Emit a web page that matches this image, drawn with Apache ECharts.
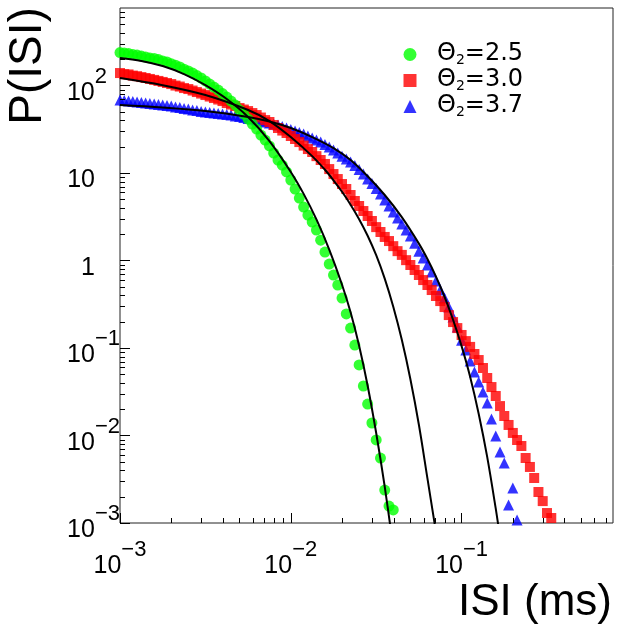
<!DOCTYPE html>
<html><head><meta charset="utf-8">
<script src="https://cdn.jsdelivr.net/npm/echarts@6/dist/echarts.min.js"></script>
<style>html,body{margin:0;padding:0;background:#fff}#c{width:623px;height:627px}</style>
</head><body><div id="c"></div>
<script>
// ISI bin centres (ms)
const isi = [
0.001000,0.001059,0.001122,0.001189,0.001259,0.001334,0.001413,0.001496,0.001585,0.001679,
0.001778,0.001884,0.001995,0.002113,0.002239,0.002371,0.002512,0.002661,0.002818,0.002985,
0.003162,0.003350,0.003548,0.003758,0.003981,0.004217,0.004467,0.004732,0.005012,0.005309,
0.005623,0.005957,0.006310,0.006683,0.007079,0.007499,0.007943,0.008414,0.008913,0.009441,
0.01000,0.01059,0.01122,0.01189,0.01259,0.01334,0.01413,0.01496,0.01585,0.01679,
0.01778,0.01884,0.01995,0.02113,0.02239,0.02371,0.02512,0.02661,0.02818,0.02985,
0.03162,0.03350,0.03548,0.03758,0.03981,0.04217,0.04467,0.04732,0.05012,0.05309,
0.05623,0.05957,0.06310,0.06683,0.07079,0.07499,0.07943,0.08414,0.08913,0.09441,
0.1000,0.1059,0.1122,0.1189,0.1259,0.1334,0.1413,0.1496,0.1585,0.1679,
0.1778,0.1884,0.1995,0.2113,0.2239,0.2371,0.2512,0.2661,0.2818,0.2985,
0.3162,0.3350
];
// P(ISI), theta2 = 2.5 (green circles)
const p25 = [
238,235,232,226,223,217,212,206,204,198,
191,186,178,171,163,154,147,139,130,122,
113,104,96.1,88.9,81.1,73.9,66.5,59.8,52.5,47.2,
41.4,36.3,31.8,27.2,23.8,20.4,16.9,14.1,12.3,10.3,
8.32,6.56,5.18,4.08,3.31,2.75,2.23,1.71,1.25,0.912,
0.683,0.525,0.372,0.245,0.169,0.108,0.0640,0.0368,0.0229,0.0139,
0.00889,0.00553,0.00238,0.00156,0.00141
];
// theta2 = 3.0 (red squares)
const p30 = [
139,135,134,130,128,125,122,119,116,113,
110,107,104,100,97.4,93.6,91.2,87.7,84.3,81.0,
77.9,74.9,72.0,69.2,66.5,63.1,60.7,58.3,55.3,53.2,
51.1,48.5,46.0,43.1,40.3,38.3,35.4,32.7,30.6,28.7,
26.5,24.5,22.6,20.6,18.8,17.4,15.6,14.1,12.7,11.1,
9.74,8.54,7.49,6.57,5.61,4.79,4.20,3.68,3.23,2.83,
2.41,2.12,1.86,1.67,1.46,1.28,1.16,1.01,0.889,0.779,
0.683,0.598,0.525,0.460,0.393,0.344,0.294,0.238,0.198,0.169,
0.141,0.120,0.103,0.0854,0.0729,0.0591,0.0454,0.0358,0.0283,0.0217,
0.0167,0.0132,0.0107,0.00889,0.00759,0.00553,0.00437,0.00327,0.00226,0.00178,
0.00130,0.00114
];
// theta2 = 3.7 (blue triangles)
const p37 = [
68.3,67.4,66.5,65.6,64.8,63.9,63.1,62.2,61.4,60.7,
59.8,59.0,58.3,56.8,56.1,54.6,53.9,52.5,51.8,50.5,
49.8,49.1,48.5,47.9,47.2,46.6,46.0,44.8,44.2,43.1,
42.0,41.4,40.3,39.3,38.3,37.3,36.3,35.4,34.0,32.7,
31.4,30.2,29.0,27.9,26.5,25.1,23.8,22.6,21.2,19.8,
18.3,16.9,15.6,14.5,13.4,12.2,11.0,9.74,8.54,7.59,
6.65,5.75,4.91,4.20,3.58,3.06,2.61,2.23,1.91,1.58,
1.28,1.07,0.889,0.739,0.583,0.460,0.373,0.294,0.226,0.174,
0.123,0.0949,0.0710,0.0532,0.0409,0.0314,0.0235,0.0154,0.00987,0.00648,
0.00485,0.00161,0.00251,0.00108
];
// fitted curves (black lines)
const fit25X = [0.001000,0.001334,0.001778,0.002371,0.003162,0.004217,0.005623,0.007499,0.01000,0.01189,0.01413,0.01679,0.01995,0.02239,0.02512,0.02818,0.03162,0.03548,0.03981];
const fit25Y = [206,191,167,135,101,70.1,43.7,23.2,10.3,5.78,2.95,1.336,0.529,0.2565,0.1062,0.0371,0.01068,0.0026,0.000521];
const fit30X = [0.001000,0.001778,0.003162,0.005623,0.007499,0.01000,0.01334,0.01585,0.01778,0.01995,0.02239,0.02512,0.02818,0.03162,0.03548,0.03981,0.04467,0.05012,0.05623,0.06310,0.07079];
const fit30Y = [122,101,77.9,52.5,39.3,25.8,15.6,10.9,8.27,6.11,4.35,2.97,1.92,1.15,0.621,0.296,0.124,0.0443,0.01326,0.00323,0.000789];
const fit37X = [0.001000,0.001778,0.003162,0.005623,0.007499,0.01000,0.01334,0.01778,0.02239,0.02818,0.03548,0.04467,0.05623,0.06310,0.07079,0.07943,0.08913,0.1000,0.1122,0.1259,0.1413,0.1585,0.1679];
const fit37Y = [59.8,56.1,51.1,43.7,38.8,32.7,25.8,19.3,14.1,9.19,5.61,3.13,1.56,1.04,0.656,0.388,0.2106,0.1051,0.0470,0.01774,0.00566,0.001457,0.000686];

const seriesNames = ['\u0398\u2082=2.5', '\u0398\u2082=3.0', '\u0398\u2082=3.7'];
const thetaText = ['=2.5', '=3.0', '=3.7'];

// tick labels
const xTickValues = [0.001, 0.01, 0.1];
const xTickBase = ['10', '10', '10'];
const xTickExp = ['\u22123', '\u22122', '\u22121'];
const yTickValues = [0.001, 0.01, 0.1, 1, 10, 100];
const yTickBase = ['10', '10', '10', '1', '10', '10'];
const yTickExp = ['\u22123', '\u22122', '\u22121', '', '', '2'];
const xMinorTicks = [0.002,0.003,0.004,0.005,0.006,0.007,0.008,0.009,0.02,0.03,0.04,0.05,0.06,0.07,0.08,0.09,0.2,0.3,0.4,0.5,0.6,0.7];
const yMinorTicks = [0.002,0.003,0.004,0.005,0.006,0.007,0.008,0.009,0.02,0.03,0.04,0.05,0.06,0.07,0.08,0.09,
  0.2,0.3,0.4,0.5,0.6,0.7,0.8,0.9,2,3,4,5,6,7,8,9,20,30,40,50,60,70,80,90,200,300,400,500,600,700];

const X_MIN = 0.001, X_MAX = 0.77, Y_MIN = 0.001, Y_MAX = 770;
const FONT = 'Liberation Sans';
const LEGEND_FONT = 'DejaVu Sans';

function pairs(xs, ys) { return ys.map((y, i) => [xs[i], y]); }
function findTick(values, v) {
  const l = Math.log10(v), r = Math.round(l);
  if (Math.abs(l - r) > 1e-6) return -1;
  return values.findIndex(t => Math.abs(Math.log10(t) - r) < 1e-6);
}
function xFmt(v) {
  const i = findTick(xTickValues, v);
  if (i < 0) return '';
  return '{b|' + xTickBase[i] + '}{e|' + xTickExp[i] + '}';
}
function yFmt(v) {
  const i = findTick(yTickValues, v);
  if (i < 0) return '';
  const e = yTickExp[i];
  if (!e) return '{b|' + yTickBase[i] + '}{s| }';
  if (e.length === 1) return '{b|' + yTickBase[i] + '}{e1|' + e + '}';
  return '{b|' + yTickBase[i] + '}{e|' + e + '}';
}
const richLbl = {
  b: { fontFamily: FONT, fontSize: 25, color: '#000', verticalAlign: 'bottom' },
  e: { fontFamily: FONT, fontSize: 22, color: '#000', verticalAlign: 'top', lineHeight: 40 },
  e1: { fontFamily: FONT, fontSize: 22, color: '#000', verticalAlign: 'top', lineHeight: 40, padding: [0, 13, 0, 0] },
  s: { fontFamily: FONT, fontSize: 22, color: '#000', width: 25, lineHeight: 40 }
};

const chart = echarts.init(document.getElementById('c'), null, { renderer: 'canvas' });
const tickStyle = { color: '#000', width: 1 };
const fitLine = { color: '#000', width: 2 };
const option = {
  animation: false,
  backgroundColor: '#fff',
  grid: { left: 120, top: 8, right: 10, bottom: 104, show: true, borderColor: '#222', borderWidth: 1, backgroundColor: 'transparent', outerBoundsMode: 'none' },
  legend: {
    orient: 'vertical', left: 403.5, top: 41.5, padding: 0, itemGap: 0, itemWidth: 13, itemHeight: 13,
    data: [
      { name: seriesNames[0], icon: 'circle' },
      { name: seriesNames[1], icon: 'rect' },
      { name: seriesNames[2], icon: 'triangle' }
    ],
    formatter: name => '{g| }{t|\u0398}{s|2}{t|' + thetaText[seriesNames.indexOf(name)] + '}',
    textStyle: {
      color: '#000', fontFamily: LEGEND_FONT,
      rich: {
        g: { width: 15.5 },
        t: { fontFamily: LEGEND_FONT, fontSize: 24, color: '#000', verticalAlign: 'top', lineHeight: 26 },
        s: { fontFamily: LEGEND_FONT, fontSize: 14, color: '#000', verticalAlign: 'bottom' }
      }
    }
  },
  xAxis: {
    type: 'log', logBase: 10, min: X_MIN, max: X_MAX, position: 'bottom',
    axisLine: { show: false }, splitLine: { show: false },
    axisTick: { show: true, inside: true, length: 10, lineStyle: tickStyle },
    axisLabel: { showMinLabel: true, showMaxLabel: false, margin: 16, formatter: xFmt, rich: richLbl }
  },
  yAxis: {
    type: 'log', logBase: 10, min: Y_MIN, max: Y_MAX, position: 'left',
    axisLine: { show: false }, splitLine: { show: false },
    axisTick: { show: true, inside: true, length: 10, lineStyle: tickStyle },
    axisLabel: { showMinLabel: true, showMaxLabel: false, margin: 0, formatter: yFmt, rich: richLbl }
  },
  graphic: [
    { type: 'text', x: 28, y: 66, rotation: Math.PI / 2, silent: true,
      style: { text: 'P(ISI)', fontFamily: FONT, fontSize: 46, fill: '#000', align: 'center', verticalAlign: 'middle' } },
    { type: 'text', x: 612, y: 603, silent: true,
      style: { text: 'ISI (ms)', fontFamily: FONT, fontSize: 44, fill: '#000', align: 'right', verticalAlign: 'middle' } }
  ],
  series: [
    { type: 'scatter', name: seriesNames[2], data: pairs(isi, p37), symbol: 'triangle', symbolSize: 11, itemStyle: { color: '#0000ff' }, z: 2, silent: true },
    { type: 'scatter', name: seriesNames[1], data: pairs(isi, p30), symbol: 'rect', symbolSize: 10, itemStyle: { color: '#ff0000' }, z: 3, silent: true },
    { type: 'scatter', name: seriesNames[0], data: pairs(isi, p25), symbol: 'circle', symbolSize: 11, itemStyle: { color: '#00ff00' }, z: 4, silent: true },
    { type: 'line', name: 'fit25', data: pairs(fit25X, fit25Y), showSymbol: false, symbol: 'none', smooth: 0.35, lineStyle: fitLine, z: 6, silent: true },
    { type: 'line', name: 'fit30', data: pairs(fit30X, fit30Y), showSymbol: false, symbol: 'none', smooth: 0.35, lineStyle: fitLine, z: 6, silent: true },
    { type: 'line', name: 'fit37', data: pairs(fit37X, fit37Y), showSymbol: false, symbol: 'none', smooth: 0.35, lineStyle: fitLine, z: 6, silent: true },
    { type: 'custom', name: 'xminor', silent: true, z: 8,
      data: xMinorTicks.map(v => [v, Y_MIN]),
      renderItem: (params, api) => {
        const p = api.coord([api.value(0), api.value(1)]);
        const x = Math.round(p[0]) + 0.5;
        return { type: 'line', shape: { x1: x, y1: p[1], x2: x, y2: p[1] - 5 }, style: { stroke: '#000', lineWidth: 1 } };
      } },
    { type: 'custom', name: 'yminor', silent: true, z: 8,
      data: yMinorTicks.map(v => [X_MIN, v]),
      renderItem: (params, api) => {
        const p = api.coord([api.value(0), api.value(1)]);
        const y = Math.round(p[1]) + 0.5;
        return { type: 'line', shape: { x1: p[0], y1: y, x2: p[0] + 5, y2: y }, style: { stroke: '#000', lineWidth: 1 } };
      } }
  ]
};
chart.setOption(option);
</script>
</body></html>
